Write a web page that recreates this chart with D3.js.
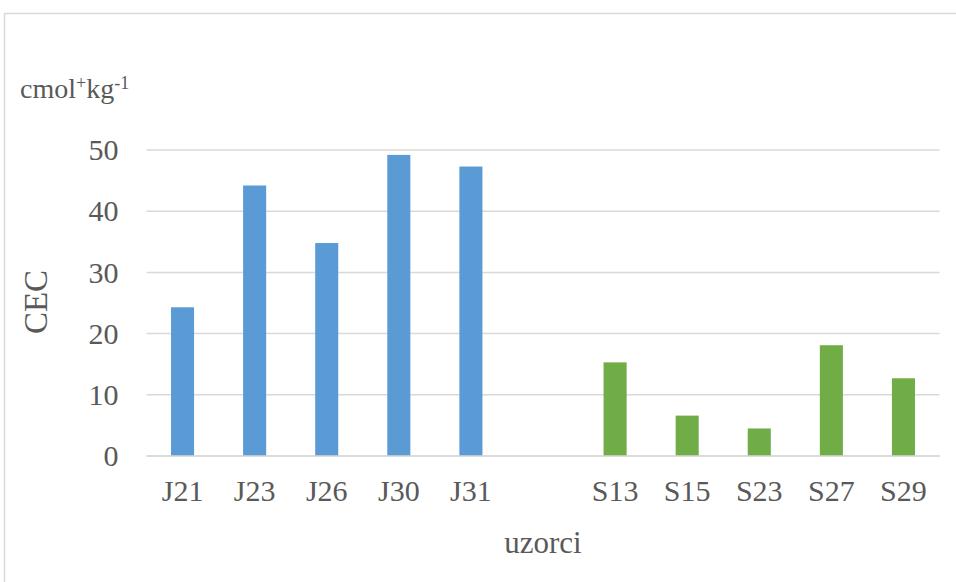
<!DOCTYPE html>
<html>
<head>
<meta charset="utf-8">
<script src="https://cdn.jsdelivr.net/npm/d3@7"></script>
<style>
  body { margin: 0; background: #fff; }
  text { font-family: "Times New Roman", Times, Tinos, "DejaVu Serif", serif; fill: #595959; }
</style>
</head>
<body>
<div id="chart"></div>
<script>
// data
var categories = ["J21", "J23", "J26", "J30", "J31", "", "S13", "S15", "S23", "S27", "S29"];
var values = [24.3, 44.2, 34.8, 49.2, 47.3, null, 15.3, 6.6, 4.5, 18.1, 12.7];
var groups = ["J", "J", "J", "J", "J", "", "S", "S", "S", "S", "S"];
var yTicks = [0, 10, 20, 30, 40, 50];

var serif = '"Times New Roman", Times, Tinos, "DejaVu Serif", serif';

var W = 956, H = 582;
var margin = {top: 150, right: 16.5, bottom: 126, left: 146.5};
var width = W - margin.left - margin.right,
    height = H - margin.top - margin.bottom;

var svg = d3.select("#chart")
  .append("svg")
    .attr("width", W)
    .attr("height", H);

// outer chart border
svg.append("rect")
  .attr("x", 4.5).attr("y", 13.5)
  .attr("width", 1000).attr("height", 1000)
  .attr("fill", "none")
  .attr("stroke", "#d9d9d9")
  .attr("stroke-width", 1.5);

var g = svg.append("g")
  .attr("transform", "translate(" + margin.left + "," + margin.top + ")");

var x = d3.scaleBand()
  .domain(d3.range(categories.length))
  .range([0, width])
  .paddingInner(0.68)
  .paddingOuter(0.34);

var y = d3.scaleLinear()
  .domain([0, 50])
  .range([height, 0]);

var color = d3.scaleOrdinal()
  .domain(["J", "S"])
  .range(["#5b9bd5", "#70ad47"]);

// gridlines
g.append("g")
  .selectAll("line")
  .data(yTicks)
  .enter()
  .append("line")
    .attr("x1", 0)
    .attr("x2", width)
    .attr("y1", function(d) { return y(d); })
    .attr("y2", function(d) { return y(d); })
    .attr("stroke", "#d9d9d9")
    .attr("stroke-width", 1.5);

// y tick labels
var yAxis = g.append("g")
  .call(d3.axisLeft(y).tickValues(yTicks).tickSize(0).tickPadding(28));
yAxis.select(".domain").remove();
yAxis.selectAll("text")
  .style("font-family", serif)
  .style("font-size", "30px")
  .attr("fill", "#595959");

// bars
g.append("g")
  .selectAll("rect")
  .data(values.map(function(v, i) { return {i: i, v: v, grp: groups[i]}; })
               .filter(function(d) { return d.v !== null; }))
  .enter()
  .append("rect")
    .attr("x", function(d) { return x(d.i); })
    .attr("y", function(d) { return y(d.v); })
    .attr("width", x.bandwidth())
    .attr("height", function(d) { return height - y(d.v); })
    .attr("fill", function(d) { return color(d.grp); });

// redraw zero line over bars
g.append("line")
  .attr("x1", 0).attr("x2", width)
  .attr("y1", y(0)).attr("y2", y(0))
  .attr("stroke", "#d9d9d9")
  .attr("stroke-width", 1.5);

// x axis labels
var xAxis = g.append("g")
  .attr("transform", "translate(0," + height + ")")
  .call(d3.axisBottom(x).tickSize(0).tickPadding(24)
    .tickFormat(function(i) { return categories[i]; }));
xAxis.select(".domain").remove();
xAxis.selectAll("text")
  .style("font-family", serif)
  .style("font-size", "30px")
  .attr("fill", "#595959");

// axis titles
g.append("text")
  .attr("text-anchor", "middle")
  .attr("x", width / 2)
  .attr("y", height + 97)
  .style("font-size", "31px")
  .text("uzorci");

svg.append("text")
  .attr("text-anchor", "middle")
  .attr("transform", "translate(47,302) rotate(-90)")
  .style("font-size", "33px")
  .text("CEC");

// unit label
var unit = svg.append("text")
  .attr("x", 20)
  .attr("y", 98)
  .style("font-size", "28px");
unit.append("tspan").text("cmol");
unit.append("tspan").attr("dy", -9).style("font-size", "18px").text("+");
unit.append("tspan").attr("dy", 9).text("kg");
unit.append("tspan").attr("dy", -9).style("font-size", "18px").text("-1");
</script>
</body>
</html>
